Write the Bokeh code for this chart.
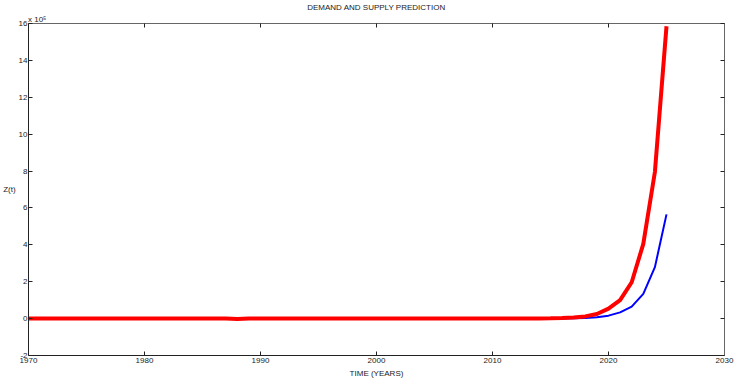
from bokeh.plotting import figure
from bokeh.models import LinearAxis, FixedTicker, CustomJSTickFormatter, Range1d
from bokeh.embed import file_html
from bokeh.resources import INLINE

# Data (values in units of 1e5)
years = list(range(1970, 2026))
demand = [0.0, 0.0, 0.0, 0.0, 0.0, 0.0, 0.0, 0.0, 0.0, 0.0,
          0.0, 0.0, 0.0, 0.0, 0.0, 0.0, 0.0, 0.0, -0.015, 0.0,
          0.0, 0.0, 0.0, 0.0, 0.0, 0.0, 0.0, 0.0, 0.0, 0.0,
          0.0, 0.0, 0.0, 0.0, 0.0, 0.0, 0.0, 0.0, 0.0, 0.0,
          0.0, 0.0, 0.002, 0.004, 0.008, 0.015, 0.03, 0.06, 0.12, 0.25,
          0.54, 1.0, 1.97, 4.05, 7.95, 15.85]
supply = [0.0, 0.0, 0.0, 0.0, 0.0, 0.0, 0.0, 0.0, 0.0, 0.0,
          0.0, 0.0, 0.0, 0.0, 0.0, 0.0, 0.0, 0.0, 0.0, 0.0,
          0.0, 0.0, 0.0, 0.0, 0.0, 0.0, 0.0, 0.0, 0.0, 0.0,
          0.0, 0.0, 0.0, 0.0, 0.0, 0.0, 0.0, 0.0, 0.0, 0.0,
          0.0, 0.0, 0.0, 0.0, 0.002, 0.004, 0.008, 0.017, 0.035, 0.075,
          0.16, 0.34, 0.65, 1.34, 2.79, 5.65]
x_ticks = [1970, 1980, 1990, 2000, 2010, 2020, 2030]
y_ticks = [-2, 0, 2, 4, 6, 8, 10, 12, 14, 16]
scale = 1e5

demand_v = [v * scale for v in demand]
supply_v = [v * scale for v in supply]

font = "Liberation Sans"
ink = "#222222"

p = figure(width=739, height=381, output_backend="svg", toolbar_location=None,
           x_range=Range1d(1970, 2030), y_range=Range1d(-2 * scale, 16 * scale),
           min_border_left=26, min_border_right=15, min_border_top=23, min_border_bottom=26,
           title="DEMAND AND SUPPLY PREDICTION")
p.title.align = "center"
p.title.text_font = font
p.title.text_font_size = "8px"
p.title.text_font_style = "normal"
p.title.text_color = ink
p.title.standoff = 0
p.background_fill_color = "white"
p.border_fill_color = "white"
p.outline_line_color = None
p.xgrid.visible = False
p.ygrid.visible = False


def style(ax):
    ax.major_tick_in = 4
    ax.major_tick_out = 0
    ax.minor_tick_line_color = None
    ax.axis_line_color = ink
    ax.major_tick_line_color = ink
    ax.major_label_text_font = font
    ax.major_label_text_font_size = "8px"
    ax.major_label_text_color = ink
    ax.major_label_standoff = 2


xa = p.xaxis[0]
xa.ticker = FixedTicker(ticks=x_ticks)
style(xa)
xa.axis_label = "TIME (YEARS)"
xa.axis_label_text_font = font
xa.axis_label_text_font_size = "8px"
xa.axis_label_text_font_style = "normal"
xa.axis_label_text_color = ink
xa.axis_label_standoff = 3

ya = p.yaxis[0]
ya.ticker = FixedTicker(ticks=[t * scale for t in y_ticks])
ya.formatter = CustomJSTickFormatter(code="return (tick/1e5).toFixed(0);")
style(ya)
ya.major_label_standoff = 1
ya.axis_label = "Z(t)"
ya.axis_label_orientation = "horizontal"
ya.axis_label_text_font = font
ya.axis_label_text_font_size = "8px"
ya.axis_label_text_font_style = "normal"
ya.axis_label_text_color = ink
ya.axis_label_standoff = 0

top = LinearAxis(ticker=FixedTicker(ticks=x_ticks),
                 formatter=CustomJSTickFormatter(code="return '';"))
style(top)
top.axis_line_color = "#666666"
top.major_label_text_font_size = "0px"
top.major_label_standoff = 0
p.add_layout(top, "above")

# exponent marker for the y axis, drawn as a label-only axis above the frame
expo = LinearAxis(ticker=FixedTicker(ticks=[1970.75]),
                  major_label_overrides={1970.75: "x 10\u2075"})
expo.axis_line_color = None
expo.major_tick_line_color = None
expo.minor_tick_line_color = None
expo.major_label_text_font = font
expo.major_label_text_font_size = "8px"
expo.major_label_text_color = ink
expo.major_label_standoff = 0
expo.major_tick_out = 0
expo.major_tick_in = 0
p.add_layout(expo, "above")

right = LinearAxis(ticker=FixedTicker(ticks=[t * scale for t in y_ticks]),
                   formatter=CustomJSTickFormatter(code="return '';"))
style(right)
right.axis_line_color = "#666666"
right.major_label_text_font_size = "0px"
right.major_label_standoff = 0
p.add_layout(right, "right")

p.line(years, supply_v, line_color="#0000ff", line_width=2)
p.line(years, demand_v, line_color="#ff0000", line_width=4)

open("out.html", "w").write(file_html(p, INLINE))
